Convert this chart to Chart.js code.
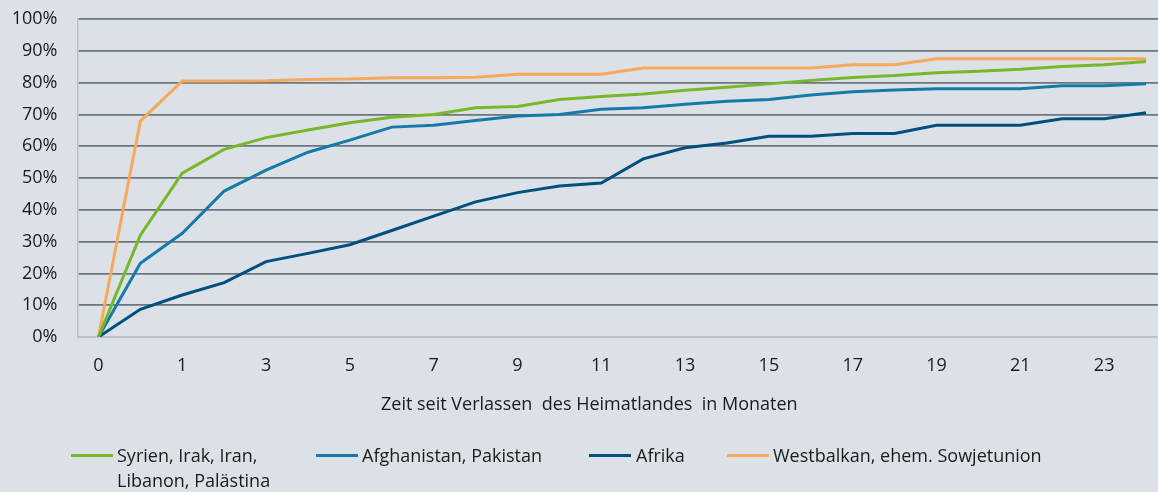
<!DOCTYPE html>
<html>
<head>
<meta charset="utf-8">
<script src="https://cdn.jsdelivr.net/npm/chart.js@4.4.1/dist/chart.umd.min.js"></script>
<style>
    html, body { margin: 0; padding: 0; background: #dce0e7; overflow: hidden; }
    #wrap { position: relative; width: 1158px; height: 492px; overflow: hidden; }
    #chartBox { position: absolute; left: 0; top: 0; width: 1168px; height: 492px; }
    .axis-title, .legend-text {
        position: absolute;
        font-family: "Open Sans", sans-serif;
        font-size: 18px;
        color: #1b1b1b;
        white-space: pre;
    }
    .legend-line { position: absolute; height: 3px; width: 42px; }
</style>
</head>
<body>
<div id="wrap">
    <div id="chartBox"><canvas id="linesChart" width="1168" height="492"></canvas></div>
    <div class="axis-title" id="xTitle" style="left:381px; top:391px; line-height:25px;"></div>
    <div id="legend"></div>
</div>
<script>
// Months since leaving the home country (index 1 = half a month, not labelled)
const months = ['0', '0,5', '1', '2', '3', '4', '5', '6', '7', '8', '9', '10', '11', '12',
    '13', '14', '15', '16', '17', '18', '19', '20', '21', '22', '23', '24'];

// Tick labels that are actually printed under the axis
const tickLabels = ['0', '', '1', '', '3', '', '5', '', '7', '', '9', '', '11', '', '13', '',
    '15', '', '17', '', '19', '', '21', '', '23', ''];

const yTicks = [0, 10, 20, 30, 40, 50, 60, 70, 80, 90, 100];

// Share of arrivals (%)
const syrien = [0, 32, 51.5, 59, 62.7, 65.1, 67.4, 69.1, 70, 72.1, 72.5, 74.7, 75.6, 76.4,
    77.6, 78.5, 79.6, 80.7, 81.6, 82.2, 83.1, 83.6, 84.2, 85.1, 85.6, 86.6];
const afghanistan = [0, 23.2, 32.6, 45.9, 52.5, 58.1, 61.9, 66, 66.6, 68.1, 69.5, 70, 71.6,
    72.1, 73.2, 74.1, 74.7, 76.1, 77.1, 77.7, 78.1, 78.1, 78.1, 79, 79, 79.6];
const afrika = [0, 8.7, 13.2, 17.1, 23.7, 26.3, 29, 33.5, 38, 42.5, 45.4, 47.5, 48.4, 56,
    59.5, 61, 63.1, 63.1, 64, 64, 66.6, 66.6, 66.6, 68.6, 68.6, 70.5];
const westbalkan = [0, 67.9, 80.5, 80.5, 80.6, 81, 81.1, 81.5, 81.5, 81.7, 82.6, 82.6, 82.6,
    84.6, 84.6, 84.6, 84.6, 84.6, 85.6, 85.6, 87.5, 87.5, 87.5, 87.5, 87.5, 87.5];

const seriesNames = ['Syrien, Irak, Iran,\nLibanon, Palästina', 'Afghanistan, Pakistan',
    'Afrika', 'Westbalkan, ehem. Sowjetunion'];
const seriesColors = ['#77b82a', '#147aa9', '#00507f', '#f6a95a'];

const xTitle = 'Zeit seit Verlassen  des Heimatlandes  in Monaten';

const gridDark = '#6c767e';
const axisLight = '#bcc1c6';
const fontStack = '"Open Sans", sans-serif';

const datasets = [syrien, afghanistan, afrika, westbalkan].map((values, i) => ({
    label: seriesNames[i],
    data: values,
    borderColor: seriesColors[i],
    backgroundColor: seriesColors[i],
    borderWidth: 3,
    pointRadius: 0,
    tension: 0,
    fill: false
}));

const ctx = document.getElementById('linesChart').getContext('2d');
new Chart(ctx, {
    type: 'line',
    data: { labels: months, datasets: datasets },
    options: {
        responsive: false,
        animation: false,
        layout: { padding: { top: 19, right: 1, bottom: 0, left: 0 } },
        plugins: {
            legend: { display: false },
            tooltip: { enabled: false }
        },
        scales: {
            x: {
                type: 'category',
                offset: true,
                afterFit: scale => {
                    scale.height = 155;
                    scale.paddingLeft = 0;
                    scale.paddingRight = 0;
                },
                grid: { display: false, drawTicks: false },
                border: { display: true, color: axisLight, width: 2 },
                ticks: {
                    autoSkip: false,
                    maxRotation: 0,
                    padding: 18,
                    color: '#1b1b1b',
                    font: { family: fontStack, size: 18 },
                    callback: (value, index) => tickLabels[index]
                }
            },
            y: {
                min: 0,
                max: 100,
                afterFit: scale => {
                    scale.width = 77.5;
                    scale.paddingTop = 0;
                    scale.paddingBottom = 0;
                },
                afterBuildTicks: scale => { scale.ticks = yTicks.map(v => ({ value: v })); },
                grid: {
                    drawTicks: false,
                    lineWidth: 1.8,
                    color: c => (c.index === 0 ? axisLight : gridDark)
                },
                border: { display: true, color: axisLight, width: 1.5 },
                ticks: {
                    padding: 20,
                    color: '#1b1b1b',
                    font: { family: fontStack, size: 18 },
                    callback: v => v + '%'
                }
            }
        }
    }
});

// Axis title and legend as plain text below the chart
document.getElementById('xTitle').textContent = xTitle;

const legendPos = [
    { line: 71, text: 117 },
    { line: 316, text: 362 },
    { line: 589, text: 636 },
    { line: 727, text: 773 }
];
const legend = document.getElementById('legend');
seriesNames.forEach((name, i) => {
    const line = document.createElement('div');
    line.className = 'legend-line';
    line.style.left = legendPos[i].line + 'px';
    line.style.top = '454px';
    line.style.background = seriesColors[i];
    legend.appendChild(line);

    const text = document.createElement('div');
    text.className = 'legend-text';
    text.style.left = legendPos[i].text + 'px';
    text.style.top = '443px';
    text.style.lineHeight = '25px';
    text.textContent = name;
    legend.appendChild(text);
});
</script>
</body>
</html>
